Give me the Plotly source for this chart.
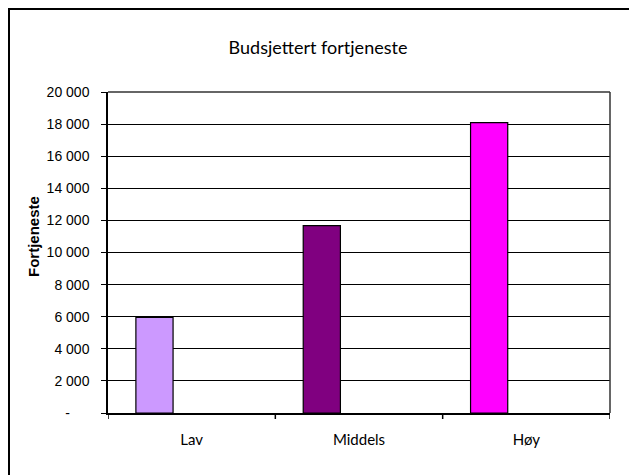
import plotly.graph_objects as go

categories = ["Lav", "Middels", "Høy"]
values = [5950, 11670, 18090]
colors = ["#CC99FF", "#800080", "#FF00FF"]
tick_vals = [0, 2000, 4000, 6000, 8000, 10000, 12000, 14000, 16000, 18000, 20000]
tick_text = ["-" + "\u00a0" * 5, "2 000", "4 000", "6 000", "8 000", "10 000", "12 000",
             "14 000", "16 000", "18 000", "20 000"]
title_text = "Budsjettert fortjeneste"
y_title = "Fortjeneste"

fig = go.Figure()
fig.add_trace(go.Bar(
    x=categories, y=values,
    marker=dict(color=colors, line=dict(color="#000000", width=1.2)),
    width=1/4.5, offset=-1/3,
    hoverinfo="x+y",
))

fig.update_layout(
    width=629, height=475,
    margin=dict(l=108, r=19, t=92, b=62),
    paper_bgcolor="white", plot_bgcolor="white",
    showlegend=False,
    title=dict(text=title_text, x=318/629, xanchor="center", y=1-48/475, yanchor="middle",
               font=dict(family="Lato", size=18, color="#000000")),
    xaxis=dict(
        type="category", range=[-0.5, 2.5],
        showline=True, linecolor="#000000", linewidth=1.5,
        showgrid=False, ticks="",
        tickfont=dict(family="Lato", size=15, color="#000000"),
        ticklabelstandoff=12,
        mirror=False, zeroline=False,
    ),
    yaxis=dict(
        range=[0, 20000], tickvals=tick_vals, ticktext=tick_text,
        showline=True, linecolor="#000000", linewidth=1.5,
        showgrid=True, gridcolor="#000000", gridwidth=1,
        ticks="outside", ticklen=5, tickcolor="#000000", tickwidth=1,
        tickfont=dict(family="Liberation Sans", size=14, color="#000000"),
        ticklabelstandoff=9,
        zeroline=False,
    ),
    annotations=[dict(
        text="<b>" + y_title + "</b>", textangle=-90,
        xref="paper", yref="paper", x=-75/502, y=(413-237)/321,
        xanchor="center", yanchor="middle", showarrow=False,
        font=dict(family="Liberation Sans", size=15, color="#000000"),
    )],
    shapes=[
        # category boundary ticks below x axis
        *[dict(type="line", xref="x", yref="paper", x0=b, x1=b, y0=0, y1=-6/321,
               line=dict(color="#000000", width=1.5)) for b in [-0.5, 0.5, 1.5, 2.5]],
        # plot area border top/right
        dict(type="line", xref="paper", yref="paper", x0=0, x1=1, y0=1, y1=1,
             line=dict(color="#333333", width=1.5)),
        dict(type="line", xref="paper", yref="paper", x0=1, x1=1, y0=0, y1=1,
             line=dict(color="#333333", width=1.5)),
        # outer chart border
        dict(type="rect", xref="paper", yref="paper",
             x0=-99/502, x1=1.2, y0=-0.3, y1=(413-9)/321,
             line=dict(color="#000000", width=2)),
    ],
)

fig.write_html("out.html")
